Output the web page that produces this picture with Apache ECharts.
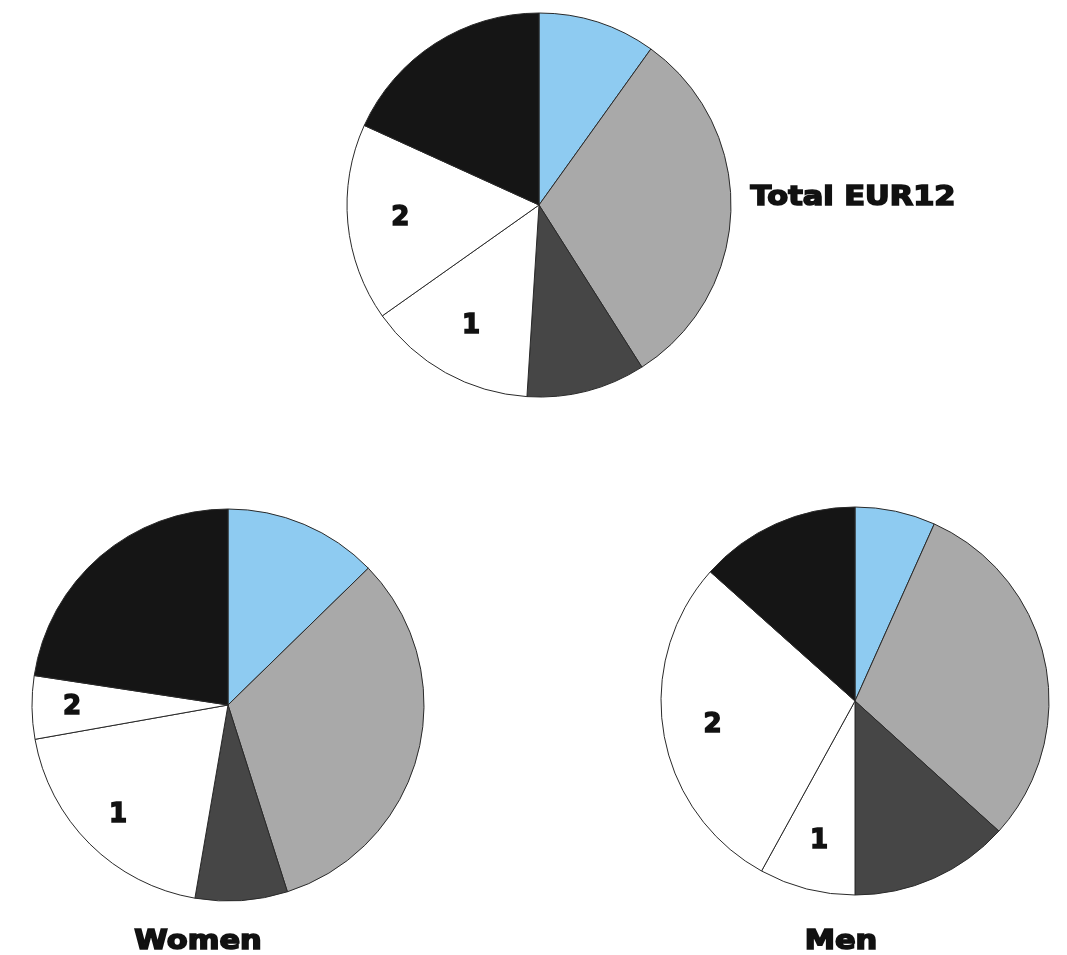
<!DOCTYPE html>
<html>
<head>
<meta charset="utf-8">
<script src="https://cdn.jsdelivr.net/npm/echarts@6/dist/echarts.min.js"></script>
<style>html,body{margin:0;padding:0;background:#fff}#c{width:1067px;height:955px}</style>
</head>
<body>
<div id="c"></div>
<script>
// Slice categories (clockwise from 12 o'clock); only the two white slices carry visible labels
const categories = ['A', 'B', 'C', '1', '2', 'D'];
const sliceColors = ['#8ecbf1', '#a9a9a9', '#464646', '#ffffff', '#ffffff', '#151515'];
const totalValues = [9.9, 31.1, 10.0, 14.2, 16.6, 18.2];
const womenValues = [12.7, 32.4, 7.6, 19.5, 5.2, 22.6];
const menValues = [6.7, 30.0, 13.3, 8.0, 28.6, 13.4];
const pieTitles = ['Total EUR12', 'Women', 'Men'];
const labeled = ['1', '2'];

const chart = echarts.init(document.getElementById('c'), null, {renderer: 'canvas'});

const pies = [
  {values: totalValues, center: [539, 205], r: 192, inner: 0.42},
  {values: womenValues, center: [228, 705], r: 196, inner: 0.56},
  {values: menValues, center: [855, 701], r: 194, inner: 0.46}
];

const series = [];
pies.forEach(function (p) {
  series.push({
    type: 'pie',
    center: p.center,
    radius: [0, p.r],
    startAngle: 90,
    clockwise: true,
    silent: true,
    animation: false,
    label: {show: false},
    labelLine: {show: false},
    itemStyle: {borderColor: '#2a2a2a', borderWidth: 1},
    data: categories.map(function (c, i) {
      return {name: c, value: p.values[i], itemStyle: {color: sliceColors[i]}};
    })
  });
  // transparent ring used only to place the "1"/"2" labels further out
  series.push({
    type: 'pie',
    center: p.center,
    radius: [p.r * p.inner, p.r],
    startAngle: 90,
    clockwise: true,
    silent: true,
    animation: false,
    labelLine: {show: false},
    itemStyle: {color: 'rgba(0,0,0,0)', borderWidth: 0},
    label: {
      show: true,
      position: 'inside',
      formatter: '{b}',
      color: '#111',
      fontFamily: 'DejaVu Sans',
      fontWeight: 'bold',
      fontSize: 26,
      textBorderColor: '#111',
      textBorderWidth: 1.5
    },
    data: categories.map(function (c, i) {
      return {name: c, value: p.values[i], label: {show: labeled.indexOf(c) >= 0}};
    })
  });
});

function title(text, x, y) {
  return {
    type: 'text', x: x, y: y, scaleX: 1.17, silent: true,
    style: {
      text: text, x: 0, y: 0, textAlign: 'center', textVerticalAlign: 'middle',
      fill: '#111', font: 'bold 26px "DejaVu Sans"', stroke: '#111', lineWidth: 1.6
    }
  };
}

chart.setOption({
  backgroundColor: '#ffffff',
  animation: false,
  series: series,
  graphic: [
    title(pieTitles[0], 853, 198),
    title(pieTitles[1], 198, 942),
    title(pieTitles[2], 841, 942)
  ]
});
</script>
</body>
</html>
